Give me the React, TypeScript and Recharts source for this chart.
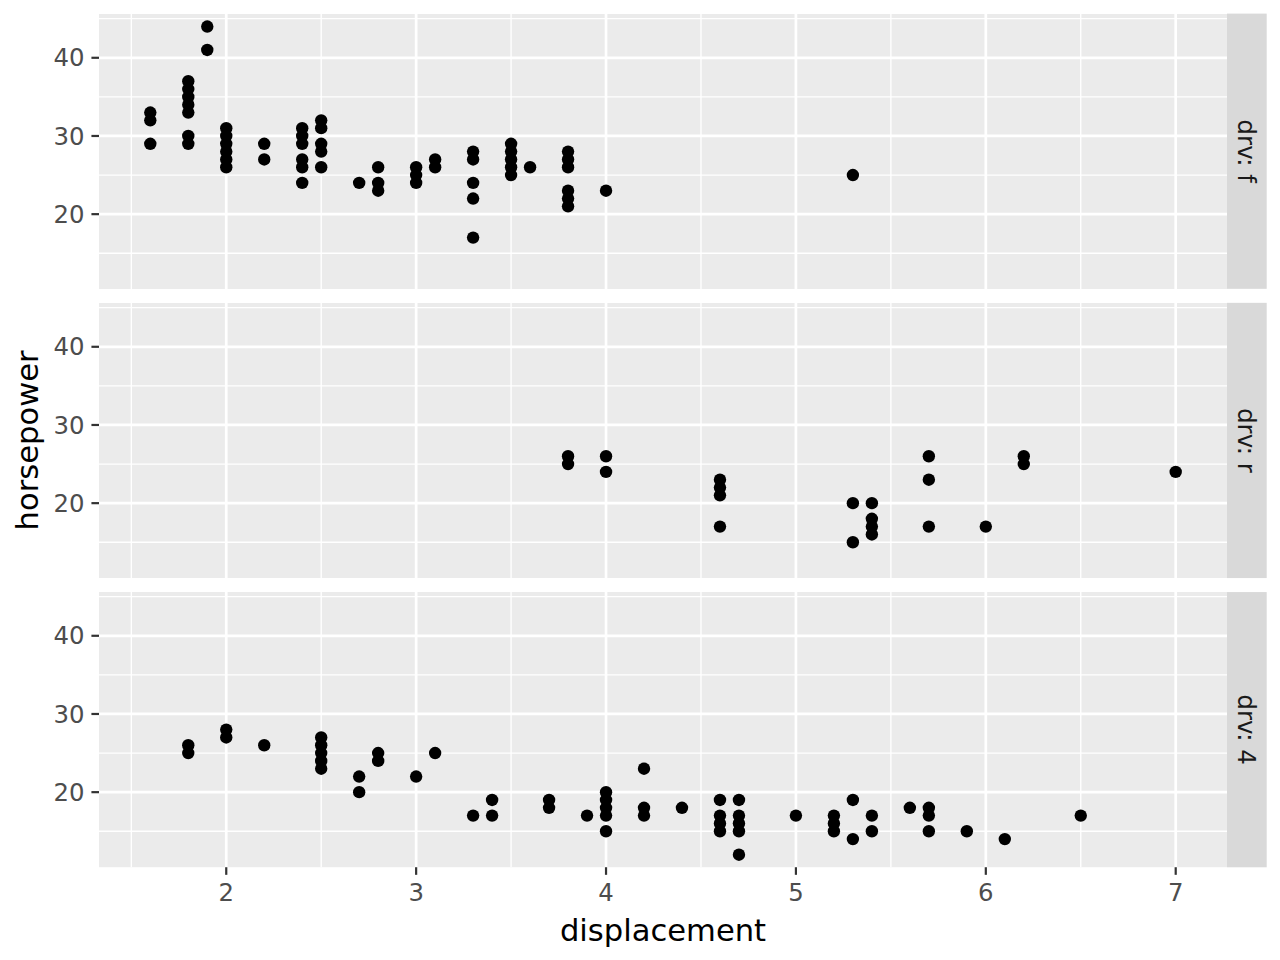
import React from 'react';
import { ScatterChart, Scatter, XAxis, YAxis, ReferenceLine, CartesianGrid } from 'recharts';

// ---- axis / facet definitions ----
const xTicks = [2, 3, 4, 5, 6, 7];
const xMinor = [1.5, 2.5, 3.5, 4.5, 5.5, 6.5];
const yTicks = [20, 30, 40];
const yMinor = [15, 25, 35, 45];
const xDomain = [1.33, 7.27];
const yDomain = [10.4, 45.6];
const stripLabels = ['drv: f', 'drv: r', 'drv: 4'];
const xTitle = 'displacement';
const yTitle = 'horsepower';

// ---- data: drv = f ----
const frontDispl = [
  1.6, 1.6, 1.6,
  1.8, 1.8, 1.8, 1.8, 1.8, 1.8, 1.8,
  1.9, 1.9,
  2.0, 2.0, 2.0, 2.0, 2.0, 2.0,
  2.2, 2.2,
  2.4, 2.4, 2.4, 2.4, 2.4, 2.4,
  2.5, 2.5, 2.5, 2.5, 2.5,
  2.7,
  2.8, 2.8, 2.8,
  3.0, 3.0, 3.0,
  3.1, 3.1,
  3.3, 3.3, 3.3, 3.3, 3.3,
  3.5, 3.5, 3.5, 3.5, 3.5,
  3.6,
  3.8, 3.8, 3.8, 3.8, 3.8, 3.8,
  4.0,
  5.3,
];
const frontHp = [
  33, 32, 29,
  37, 36, 35, 34, 33, 30, 29,
  44, 41,
  31, 30, 29, 28, 27, 26,
  29, 27,
  31, 30, 29, 27, 26, 24,
  32, 31, 29, 28, 26,
  24,
  26, 24, 23,
  26, 25, 24,
  27, 26,
  28, 27, 24, 22, 17,
  29, 28, 27, 26, 25,
  26,
  28, 27, 26, 23, 22, 21,
  23,
  25,
];

// ---- data: drv = r ----
const rearDispl = [
  3.8, 3.8,
  4.0, 4.0,
  4.6, 4.6, 4.6, 4.6,
  5.3, 5.3,
  5.4, 5.4, 5.4, 5.4,
  5.7, 5.7, 5.7,
  6.0,
  6.2, 6.2,
  7.0,
];
const rearHp = [
  26, 25,
  26, 24,
  23, 22, 21, 17,
  20, 15,
  20, 18, 17, 16,
  26, 23, 17,
  17,
  26, 25,
  24,
];

// ---- data: drv = 4 ----
const fourDispl = [
  1.8, 1.8,
  2.0, 2.0,
  2.2,
  2.5, 2.5, 2.5, 2.5, 2.5,
  2.7, 2.7,
  2.8, 2.8,
  3.0,
  3.1,
  3.3,
  3.4, 3.4,
  3.7, 3.7,
  3.9,
  4.0, 4.0, 4.0, 4.0, 4.0,
  4.2, 4.2, 4.2,
  4.4,
  4.6, 4.6, 4.6, 4.6,
  4.7, 4.7, 4.7, 4.7, 4.7,
  5.0,
  5.2, 5.2, 5.2,
  5.3, 5.3,
  5.4, 5.4,
  5.6,
  5.7, 5.7, 5.7,
  5.9,
  6.1,
  6.5,
];
const fourHp = [
  26, 25,
  28, 27,
  26,
  27, 26, 25, 24, 23,
  22, 20,
  25, 24,
  22,
  25,
  17,
  19, 17,
  19, 18,
  17,
  20, 19, 18, 17, 15,
  23, 18, 17,
  18,
  19, 17, 16, 15,
  19, 17, 16, 15, 12,
  17,
  17, 16, 15,
  19, 14,
  17, 15,
  18,
  18, 17, 15,
  15,
  14,
  17,
];

const zip = (xs: number[], ys: number[]) => xs.map((x, i) => ({ x, y: ys[i] }));
const panels = [zip(frontDispl, frontHp), zip(rearDispl, rearHp), zip(fourDispl, fourHp)];

// ---- layout ----
const W = 1280;
const H = 960;
const PLOT_LEFT = 99;
const PLOT_RIGHT = 1227;
const FIRST_TOP = 13.6;
const LAST_BOTTOM = 867.3;
const GAP = 14.0;
const PANEL_H = (LAST_BOTTOM - FIRST_TOP - 2 * GAP) / 3;
const panelTops = [0, 1, 2].map((i) => FIRST_TOP + i * (PANEL_H + GAP));
const FONT = 'DejaVu Sans';

const dot = (p: any) => <circle cx={p.cx} cy={p.cy} r={6.2} fill="#000000" />;

function Panel({ data, top, showX }: { data: { x: number; y: number }[]; top: number; showX: boolean }) {
  const xAxisH = showX ? H - LAST_BOTTOM : 0;
  const h = PANEL_H + xAxisH;
  return (
    <div style={{ position: 'absolute', left: 0, top, width: W, height: h }}>
      <ScatterChart width={W} height={h} margin={{ top: 0, right: W - PLOT_RIGHT, bottom: 0, left: 0 }}>
        <CartesianGrid fill="#EBEBEB" horizontal={false} vertical={false} stroke="none" />
        {xMinor.map((v) => (
          <ReferenceLine key={'xm' + v} x={v} stroke="#FFFFFF" strokeWidth={1.35} />
        ))}
        {yMinor.map((v) => (
          <ReferenceLine key={'ym' + v} y={v} stroke="#FFFFFF" strokeWidth={1.35} />
        ))}
        {xTicks.map((v) => (
          <ReferenceLine key={'xM' + v} x={v} stroke="#FFFFFF" strokeWidth={2.7} />
        ))}
        {yTicks.map((v) => (
          <ReferenceLine key={'yM' + v} y={v} stroke="#FFFFFF" strokeWidth={2.7} />
        ))}
        <XAxis
          type="number"
          dataKey="x"
          domain={xDomain}
          ticks={xTicks}
          interval={0}
          hide={!showX}
          height={xAxisH}
          axisLine={false}
          tickSize={7.6}
          tickMargin={8.5}
          tickLine={{ stroke: '#333333', strokeWidth: 2.2 }}
          tick={{ fill: '#4D4D4D', fontSize: 24.4, fontFamily: FONT }}
        />
        <YAxis
          type="number"
          dataKey="y"
          domain={yDomain}
          ticks={yTicks}
          interval={0}
          width={PLOT_LEFT}
          axisLine={false}
          tickSize={7.6}
          tickMargin={7}
          tickLine={{ stroke: '#333333', strokeWidth: 2.2 }}
          tick={{ fill: '#4D4D4D', fontSize: 24.4, fontFamily: FONT }}
        />
        <Scatter data={data} isAnimationActive={false} shape={dot} />
      </ScatterChart>
    </div>
  );
}

export default function App() {
  const stripX = PLOT_RIGHT;
  const stripW = 39.7;
  return (
    <div style={{ position: 'absolute', left: 0, top: 0, width: W, height: H, background: '#FFFFFF', overflow: 'hidden' }}>
      {panels.map((d, i) => (
        <Panel key={i} data={d} top={panelTops[i]} showX={i === 2} />
      ))}
      <svg width={W} height={H} style={{ position: 'absolute', left: 0, top: 0, pointerEvents: 'none' }}>
        {stripLabels.map((lab, i) => {
          const cy = panelTops[i] + PANEL_H / 2;
          const cx = stripX + stripW / 2;
          return (
            <g key={lab}>
              <rect x={stripX} y={panelTops[i]} width={stripW} height={PANEL_H} fill="#D9D9D9" />
              <text
                x={cx}
                y={cy}
                transform={`rotate(90 ${cx} ${cy})`}
                textAnchor="middle"
                dominantBaseline="central"
                fontFamily={FONT}
                fontSize={24.4}
                fill="#1A1A1A"
              >
                {lab}
              </text>
            </g>
          );
        })}
        <text x={(PLOT_LEFT + PLOT_RIGHT) / 2} y={941} textAnchor="middle" fontFamily={FONT} fontSize={30.6} fill="#000000">
          {xTitle}
        </text>
        <text
          x={38}
          y={(FIRST_TOP + LAST_BOTTOM) / 2}
          transform={`rotate(-90 38 ${(FIRST_TOP + LAST_BOTTOM) / 2})`}
          textAnchor="middle"
          fontFamily={FONT}
          fontSize={30.6}
          fill="#000000"
        >
          {yTitle}
        </text>
      </svg>
    </div>
  );
}
